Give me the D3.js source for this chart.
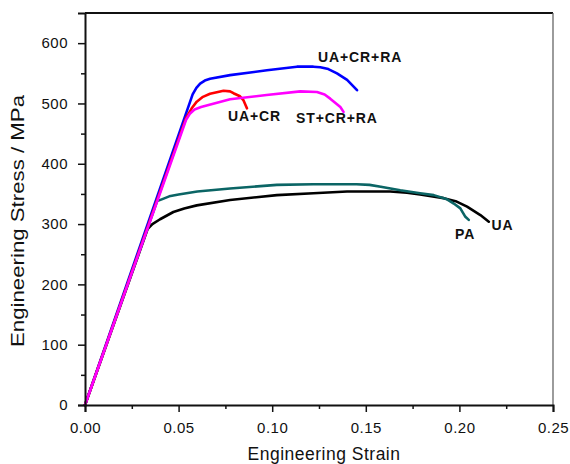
<!DOCTYPE html>
<html>
<head>
<meta charset="utf-8">
<script src="https://cdn.jsdelivr.net/npm/d3@7"></script>
<style>
  html, body { margin: 0; padding: 0; background: #fff; }
  svg { display: block; font-family: "Liberation Sans", Arial, sans-serif; }
</style>
</head>
<body>
<svg id="chart" width="570" height="464"></svg>
<script>
// ---- data (strain, stress MPa) ----
const seriesNames = ["UA", "PA", "UA+CR+RA", "UA+CR", "ST+CR+RA"];
const seriesColors = ["#000000", "#0b6565", "#0000ff", "#ff0000", "#ff00ff"];

const uaStrain = [0, 0.0335, 0.036, 0.0401, 0.0472, 0.053, 0.0597, 0.0775, 0.1025, 0.122, 0.14, 0.163, 0.172, 0.179, 0.1916, 0.198, 0.2041, 0.2112, 0.2157];
const uaStress = [0, 292, 300, 308, 320, 326, 331, 340, 348, 351, 354, 354, 352, 349, 343, 338, 329, 315, 304];

const paStrain = [0, 0.0385, 0.041, 0.045, 0.050, 0.060, 0.0775, 0.1025, 0.122, 0.145, 0.152, 0.158, 0.1684, 0.179, 0.1863, 0.1934, 0.197, 0.2005, 0.2032, 0.205];
const paStress = [0, 338, 341, 346, 349, 354, 359, 365, 366, 366, 365, 362, 356, 351, 348, 341, 334, 326, 312, 307];

const uacrraStrain = [0, 0.0575, 0.0595, 0.0615, 0.064, 0.0668, 0.0775, 0.0972, 0.1132, 0.122, 0.1257, 0.130, 0.1346, 0.140, 0.1453];
const uacrraStress = [0, 515, 526, 533, 538, 541, 547, 555, 561, 561, 560, 557, 550, 539, 522];

const uacrStrain = [0, 0.054, 0.057, 0.0597, 0.063, 0.0668, 0.074, 0.0775, 0.0793, 0.0828, 0.0847, 0.0865];
const uacrStress = [0, 476, 492, 503, 511, 516, 521, 520, 517, 512, 505, 492];

const stcrraStrain = [0, 0.054, 0.056, 0.0585, 0.062, 0.0655, 0.0775, 0.097, 0.115, 0.1239, 0.128, 0.131, 0.1364, 0.1381];
const stcrraStress = [0, 473, 483, 490, 494, 497, 507, 514, 520, 519, 515, 508, 494, 486];

const xTicks = [0, 0.05, 0.10, 0.15, 0.20, 0.25];
const xMinorTicks = [0.025, 0.075, 0.125, 0.175, 0.225];
const yTicks = [0, 100, 200, 300, 400, 500, 600];
const yMinorTicks = [50, 150, 250, 350, 450, 550];

const xTitle = "Engineering Strain";
const yTitle = "Engineering Stress / MPa";

// ---- layout ----
const svg = d3.select("#chart");
const pLeft = 85, pRight = 553, pTop = 13, pBottom = 405;
const x = d3.scaleLinear().domain([0, 0.25]).range([pLeft, pRight]);
const y = d3.scaleLinear().domain([0, 650]).range([pBottom, pTop]);

const series = [
  {name: seriesNames[0], color: seriesColors[0], xs: uaStrain, ys: uaStress},
  {name: seriesNames[1], color: seriesColors[1], xs: paStrain, ys: paStress},
  {name: seriesNames[2], color: seriesColors[2], xs: uacrraStrain, ys: uacrraStress},
  {name: seriesNames[3], color: seriesColors[3], xs: uacrStrain, ys: uacrStress},
  {name: seriesNames[4], color: seriesColors[4], xs: stcrraStrain, ys: stcrraStress}
];

// frame: top and right
svg.append("line").attr("x1", pLeft).attr("x2", pRight).attr("y1", pTop).attr("y2", pTop)
  .attr("stroke", "#111").attr("stroke-width", 2);
svg.append("line").attr("x1", pRight).attr("x2", pRight).attr("y1", pTop).attr("y2", pBottom)
  .attr("stroke", "#666").attr("stroke-width", 1.3);

// curves
const line = d3.line().x(d => x(d[0])).y(d => y(d[1])).curve(d3.curveLinear);
series.forEach(s => {
  const pts = s.xs.map((v, i) => [v, s.ys[i]]);
  svg.append("path").datum(pts).attr("d", line)
    .attr("fill", "none").attr("stroke", s.color).attr("stroke-width", 2.6)
    .attr("stroke-linejoin", "round").attr("stroke-linecap", "round");
});

// axes
const xAxis = d3.axisBottom(x).tickValues(xTicks).tickFormat(d3.format(".2f")).tickSize(7).tickPadding(10);
const gx = svg.append("g").attr("transform", `translate(0,${pBottom})`).call(xAxis);
const xMinor = d3.axisBottom(x).tickValues(xMinorTicks).tickFormat("").tickSize(4);
const gxm = svg.append("g").attr("transform", `translate(0,${pBottom})`).call(xMinor);

const yAxis = d3.axisLeft(y).tickValues(yTicks).tickFormat(d3.format("d")).tickSize(7).tickPadding(10);
const gy = svg.append("g").attr("transform", `translate(${pLeft},0)`).call(yAxis);
const yMinor = d3.axisLeft(y).tickValues(yMinorTicks).tickFormat("").tickSize(4);
const gym = svg.append("g").attr("transform", `translate(${pLeft},0)`).call(yMinor);

[gx, gy, gxm, gym].forEach(g => {
  g.select(".domain").attr("stroke", "#111").attr("stroke-width", 2);
  g.selectAll(".tick line").attr("stroke", "#111").attr("stroke-width", 1.5);
  g.selectAll(".tick text").attr("fill", "#111")
    .style("font-family", "'Liberation Sans', Arial, sans-serif")
    .style("font-size", "15px").style("letter-spacing", "0.5px");
});
gxm.select(".domain").remove();
gym.select(".domain").remove();

// axis titles
svg.append("text").attr("x", 324).attr("y", 459.5).attr("text-anchor", "middle")
  .attr("fill", "#111").style("font-size", "17.5px").style("letter-spacing", "0.5px").text(xTitle);
svg.append("text").attr("transform", "translate(23.5,221) rotate(-90)").attr("text-anchor", "middle")
  .attr("fill", "#111").style("font-size", "17.5px")
  .attr("textLength", 252).attr("lengthAdjust", "spacingAndGlyphs").text(yTitle);

// curve labels
const labelPos = [
  {name: "UA", x: 491.5, y: 230},
  {name: "PA", x: 455, y: 239},
  {name: "UA+CR+RA", x: 318, y: 62},
  {name: "UA+CR", x: 228, y: 120.5},
  {name: "ST+CR+RA", x: 296, y: 123}
];
labelPos.forEach(l => {
  svg.append("text").attr("x", l.x).attr("y", l.y).attr("fill", "#111")
    .style("font-size", "14px").style("font-weight", "bold").style("letter-spacing", "0.9px")
    .text(l.name);
});
</script>
</body>
</html>
